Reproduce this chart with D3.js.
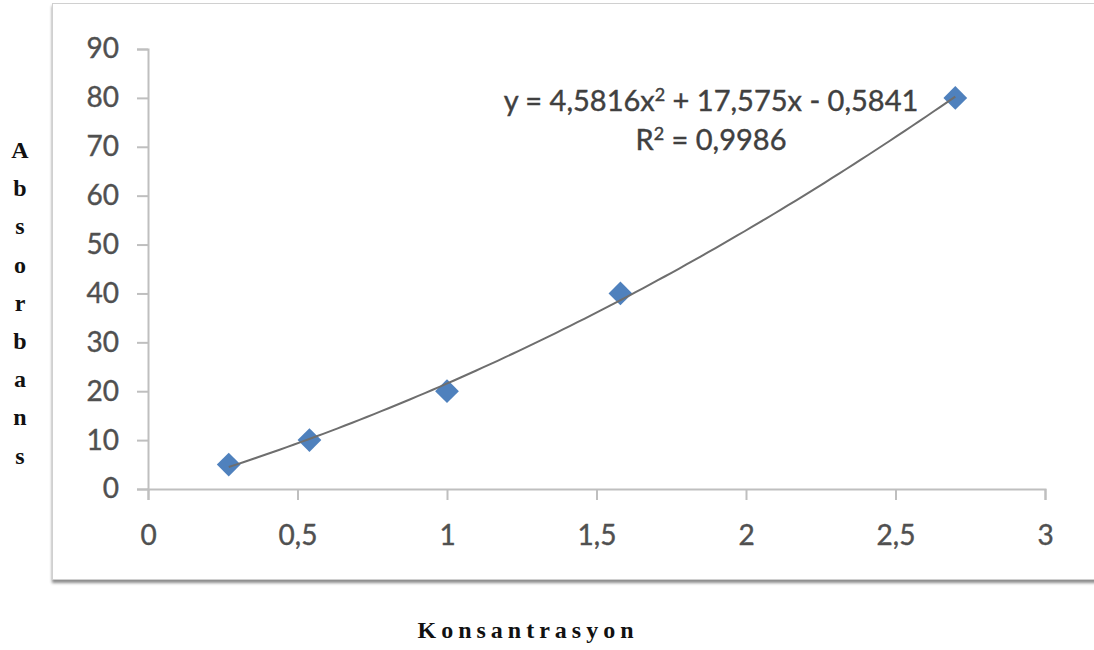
<!DOCTYPE html>
<html>
<head>
<meta charset="utf-8">
<script src="https://cdn.jsdelivr.net/npm/d3@7"></script>
<style>
  body { margin: 0; background: #fff; }
  svg { display: block; }
</style>
</head>
<body>
<div id="chart"></div>
<script>
// data
var konsantrasyon = [0.27, 0.54, 1.0, 1.58, 2.7];
var absorbans = [5, 10, 20, 40, 80];
var xTicks = [0, 0.5, 1, 1.5, 2, 2.5, 3];
var yTicks = [0, 10, 20, 30, 40, 50, 60, 70, 80, 90];
// trendline coefficients shown on the chart (a, b, c)
var trendCoef = [4.5816, 17.575, -0.5841];
var trendText = ["y = 4,5816x", "2", " + 17,575x - 0,5841"];
var r2Text = "0,9986";

var W = 1094, H = 650;

var svg = d3.select("#chart")
            .append("svg")
            .attr("width", W)
            .attr("height", H);

var x = d3.scaleLinear().domain([0, 3]).range([148, 1045]);
var y = d3.scaleLinear().domain([0, 90]).range([489, 49]);

// frame with shadow
var defs = svg.append("defs");
var f = defs.append("filter").attr("id", "shadow")
            .attr("x", "-5%").attr("y", "-5%").attr("width", "110%").attr("height", "110%");
f.append("feDropShadow")
 .attr("dx", 0).attr("dy", 3).attr("stdDeviation", 1.5)
 .attr("flood-color", "#000").attr("flood-opacity", 0.45);

svg.append("rect")
   .attr("x", 52.5)
   .attr("y", 3.5)
   .attr("width", 1080)
   .attr("height", 576)
   .attr("fill", "white")
   .attr("stroke", "#d0d0d0")
   .attr("filter", "url(#shadow)");

// axes
var axisColor = "#bfbfbf";
var labelColor = "#505050";
var tickFont = "Lato, 'Open Sans', sans-serif";

var yAxis = svg.append("g")
   .attr("transform", "translate(" + x(0) + ",0)")
   .call(d3.axisLeft(y).tickValues(yTicks).tickSize(11).tickPadding(18)
           .tickFormat(function(d){ return d; }));

var xAxis = svg.append("g")
   .attr("transform", "translate(0," + y(0) + ")")
   .call(d3.axisBottom(x).tickValues(xTicks).tickSize(11).tickPadding(25)
           .tickFormat(function(d){ return String(d).replace(".", ","); }));

[yAxis, xAxis].forEach(function(g){
  g.selectAll(".domain").attr("stroke", axisColor).attr("stroke-width", 2);
  g.selectAll(".tick line").attr("stroke", axisColor).attr("stroke-width", 2);
  g.selectAll(".tick text")
   .attr("fill", labelColor)
   .attr("stroke", labelColor)
   .attr("stroke-width", 0.4)
   .style("font-family", tickFont)
   .style("font-size", "28px");
});

// points
var pts = konsantrasyon.map(function(k, i){ return {x: k, y: absorbans[i]}; });

svg.append("g").selectAll("path")
   .data(pts)
   .enter().append("path")
   .attr("d", d3.symbol().type(d3.symbolDiamond2).size(360))
   .attr("transform", function(d){ return "translate(" + x(d.x) + "," + y(d.y) + ")"; })
   .attr("fill", "#4f81bd");

// polynomial trendline over the data range
var xs = d3.range(0, 101).map(function(i){
  var lo = d3.min(konsantrasyon), hi = d3.max(konsantrasyon);
  return lo + (hi - lo) * i / 100;
});
var line = d3.line()
             .x(function(d){ return x(d); })
             .y(function(d){ return y(trendCoef[0] * d * d + trendCoef[1] * d + trendCoef[2]); });

svg.append("path")
   .attr("d", line(xs))
   .attr("fill", "none")
   .attr("stroke", "#6e6e6e")
   .attr("stroke-width", 2);

// equation
var eqColor = "#404040";
var eq = svg.append("text")
   .attr("x", 711)
   .attr("y", 111)
   .attr("text-anchor", "middle")
   .attr("fill", eqColor)
   .attr("stroke", eqColor)
   .attr("stroke-width", 0.4)
   .style("font-family", tickFont)
   .style("font-size", "29px");
eq.append("tspan").text(trendText[0]);
eq.append("tspan").attr("dy", -10).style("font-size", "18px").text(trendText[1]);
eq.append("tspan").attr("dy", 10).text(trendText[2]);

var r2 = svg.append("text")
   .attr("x", 711)
   .attr("y", 150)
   .attr("text-anchor", "middle")
   .attr("fill", eqColor)
   .attr("stroke", eqColor)
   .attr("stroke-width", 0.4)
   .style("font-family", tickFont)
   .style("font-size", "29px");
r2.append("tspan").text("R");
r2.append("tspan").attr("dy", -10).style("font-size", "18px").text("2");
r2.append("tspan").attr("dy", 10).text(" = " + r2Text);

// axis titles
var serif = "'Liberation Serif', 'Times New Roman', serif";
var yLetters = "Absorbans".split("");
svg.append("g").selectAll("text")
   .data(yLetters)
   .enter().append("text")
   .attr("x", 20)
   .attr("y", function(d, i){ return 158 + i * 38.2; })
   .attr("text-anchor", "middle")
   .attr("fill", "#111")
   .style("font-family", serif)
   .style("font-weight", "bold")
   .style("font-size", "24px")
   .text(function(d){ return d; });

svg.append("text")
   .attr("x", 528)
   .attr("y", 638)
   .attr("text-anchor", "middle")
   .attr("fill", "#111")
   .style("font-family", serif)
   .style("font-weight", "bold")
   .style("font-size", "24px")
   .style("letter-spacing", "5px")
   .text("Konsantrasyon");
</script>
</body>
</html>
